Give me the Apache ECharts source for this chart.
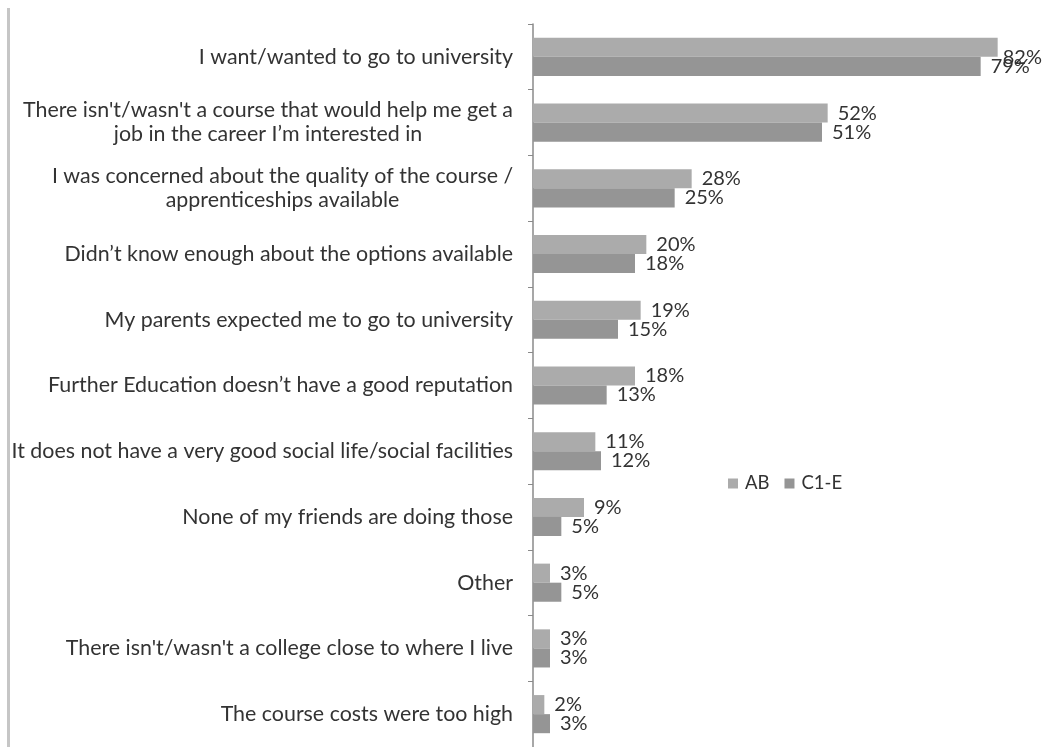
<!DOCTYPE html>
<html>
<head>
<meta charset="utf-8">
<script src="https://cdn.jsdelivr.net/npm/echarts@6/dist/echarts.min.js"></script>
<style>
  html, body { margin: 0; padding: 0; background: #fff; }
  #chart { position: absolute; left: 0; top: 0; width: 1043px; height: 747px; }
  #frame { position: absolute; left: 7px; top: 8px; width: 3px; bottom: 0; background: #c6c6c6; z-index: 5; }
</style>
</head>
<body>
<div id="chart"></div>
<div id="frame"></div>
<script>
// Reasons given, by social grade
const categories = [
  "I want/wanted to go to university",
  "There isn't/wasn't a course that would help me get a\njob in the career I\u2019m interested in",
  "I was concerned about the quality of the course /\napprenticeships available",
  "Didn\u2019t know enough about the options available",
  "My parents expected me to go to university",
  "Further Education doesn\u2019t have a good reputation",
  "It does not have a very good social life/social facilities",
  "None of my friends are doing those",
  "Other",
  "There isn't/wasn't a college close to where I live",
  "The course costs were too high"
];
const seriesNames = ["AB", "C1-E"];
const abValues = [82, 52, 28, 20, 19, 18, 11, 9, 3, 3, 2];
const c1eValues = [79, 51, 25, 18, 15, 13, 12, 5, 5, 3, 3];

const FONT = "Lato";
const CAT_SIZE = 21.4;
const TEXT = '#333333';

// Wrapped category labels are centred line by line: the block is centre-aligned
// and a right padding equal to its widest line moves its centre half a block
// to the left, so its right edge still lines up with the other labels.
const measureCtx = document.createElement('canvas').getContext('2d');
measureCtx.font = CAT_SIZE + 'px ' + FONT;
const yAxisData = categories.map(function (cat) {
  const lines = cat.split('\n');
  if (lines.length === 1) return cat;
  const maxW = Math.max.apply(null, lines.map(function (l) {
    return measureCtx.measureText(l).width;
  }));
  return {
    value: cat,
    textStyle: { align: 'center', padding: [0, Math.round(maxW), 0, 0] }
  };
});

const chart = echarts.init(document.getElementById('chart'), null, { renderer: 'canvas' });

const labelCfg = {
  show: true,
  position: 'right',
  distance: 10,
  formatter: '{c}%',
  color: TEXT,
  fontFamily: FONT,
  fontSize: 20
};

// keep value labels inside the canvas on the right
function keepInside(params) {
  const r = params.labelRect;
  const limit = 1042;
  if (r.x + r.width > limit) {
    return { x: limit - r.width };
  }
  return {};
}

chart.setOption({
  animation: false,
  backgroundColor: '#ffffff',
  legend: {
    data: seriesNames,
    left: 723,
    top: 469,
    orient: 'horizontal',
    itemWidth: 10,
    itemHeight: 10,
    itemGap: 15,
    icon: 'rect',
    textStyle: { fontFamily: FONT, fontSize: 18.5, color: TEXT, padding: [0, 0, 0, 2] }
  },
  grid: { left: 533, top: 24, width: 514, height: 723, containLabel: false },
  xAxis: {
    type: 'value',
    min: 0,
    max: 90,
    show: false
  },
  yAxis: {
    type: 'category',
    data: yAxisData,
    inverse: true,
    axisLine: { show: true, lineStyle: { color: '#8a8a8a', width: 1.5 } },
    axisTick: { show: true, length: 5, lineStyle: { color: '#8a8a8a' } },
    axisLabel: {
      margin: 20,
      align: 'right',
      overflow: 'none',
      hideOverlap: false,
      fontFamily: FONT,
      fontSize: CAT_SIZE,
      lineHeight: 24,
      color: TEXT
    },
    splitLine: { show: false }
  },
  series: [
    {
      name: seriesNames[0],
      type: 'bar',
      data: abValues,
      barGap: '0%',
      barCategoryGap: '42%',
      itemStyle: { color: '#ababab' },
      label: Object.assign({}, labelCfg),
      labelLayout: keepInside
    },
    {
      name: seriesNames[1],
      type: 'bar',
      data: c1eValues,
      barGap: '0%',
      barCategoryGap: '42%',
      itemStyle: { color: '#959595' },
      label: Object.assign({}, labelCfg),
      labelLayout: keepInside
    }
  ]
});
</script>
</body>
</html>
